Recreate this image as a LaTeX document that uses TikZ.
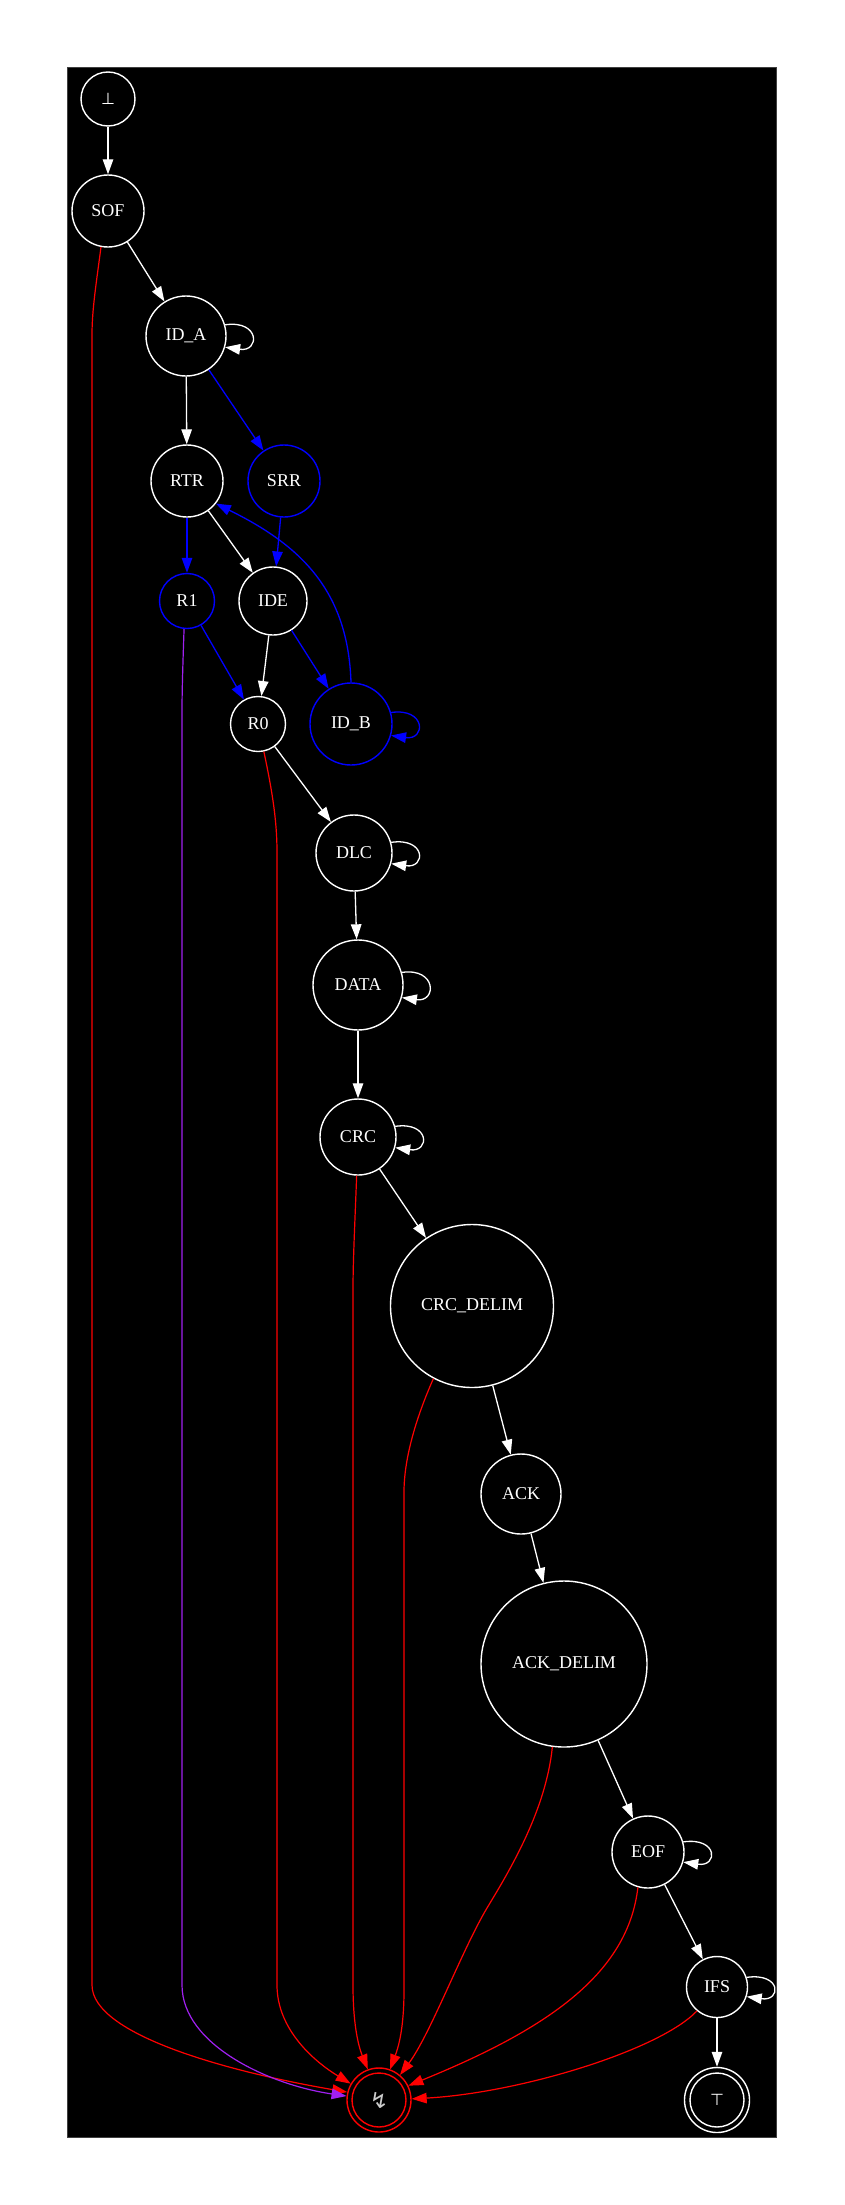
\documentclass[tikz,border=0pt]{standalone}
\usepackage{fontspec}
\setmainfont{Liberation Serif}
\newfontfamily\dejavu{DejaVu Sans}
\usetikzlibrary{arrows.meta}
\definecolor{xpurple}{HTML}{A020F0}
\begin{document}
\begin{tikzpicture}[x=1pt,y=-1pt,
  st/.style={circle, draw=white, line width=1.4pt, inner sep=0pt, text=white,
    font=\fontsize{18}{20}\selectfont},
  bst/.style={st, draw=blue},
  fin/.style={st, draw=#1, path picture={\draw[#1, line width=1.4pt] (path picture bounding box.center) circle (27pt);}},
  e/.style={draw=white, line width=1.3pt, -{Triangle[length=15pt,width=10.5pt]}},
  eb/.style={e, draw=blue},
  er/.style={e, draw=red, line width=1.2pt},
  ep/.style={e, draw=xpurple, line width=1.2pt},
]
\useasboundingbox (0,0) rectangle (844,2205);
\fill[white] (0,0) rectangle (844,2205);
\filldraw[fill=black, draw=black!75, line width=0.8pt] (67,67) rectangle (776,2137);

% nodes
\node[st, minimum size=54pt, font=\dejavu\fontsize{16}{18}\selectfont] (bot) at (108,99) {⊥};
\node[st, minimum size=72pt] (sof) at (108,211) {SOF};
\node[st, minimum size=80pt] (ida) at (186,336) {ID\_A};
\node[st, minimum size=72pt] (rtr) at (187,481) {RTR};
\node[bst, minimum size=72pt] (srr) at (284,481) {SRR};
\node[bst, minimum size=55pt] (r1) at (187,601) {R1};
\node[st, minimum size=68pt] (ide) at (273,601) {IDE};
\node[st, minimum size=55pt] (r0) at (258,724) {R0};
\node[bst, minimum size=82pt] (idb) at (351,724) {ID\_B};
\node[st, minimum size=76pt] (dlc) at (354,853) {DLC};
\node[st, minimum size=90pt] (data) at (358,985) {DATA};
\node[st, minimum size=76pt] (crc) at (358,1137) {CRC};
\node[st, minimum size=163pt] (crcd) at (472,1306) {CRC\_DELIM};
\node[st, minimum size=80pt] (ack) at (521,1494) {ACK};
\node[st, minimum size=166pt] (ackd) at (564,1664) {ACK\_DELIM};
\node[st, minimum size=72pt] (eof) at (648,1852) {EOF};
\node[st, minimum size=61pt] (ifs) at (717,1987) {IFS};
\node[fin=white, minimum size=65pt, font=\dejavu\fontsize{16}{18}\selectfont] (top) at (717,2100) {⊤};
\node[fin=red, minimum size=64pt, text=white!80!black, font=\dejavu\fontsize{22}{24}\selectfont] (zap) at (379,2100) {↯};

% white edges
\draw[e] (bot) -- (sof);
\draw[e] (sof) -- (ida);
\draw[e] (ida) -- (rtr);
\draw[e] (rtr) -- (ide);
\draw[e] (ide) -- (r0);
\draw[e] (r0) -- (dlc);
\draw[e] (dlc) -- (data);
\draw[e] (data) -- (crc);
\draw[e] (crc) -- (crcd);
\draw[e] (crcd) -- (ack);
\draw[e] (ack) -- (ackd);
\draw[e] (ackd) -- (eof);
\draw[e] (eof) -- (ifs);
\draw[e] (ifs) -- (top);

% self loops
\draw[e] (ida.16) .. controls +(35,-5) and +(35,5) .. (ida.-16);
\draw[e] (dlc.16) .. controls +(35,-5) and +(35,5) .. (dlc.-16);
\draw[e] (data.16) .. controls +(35,-5) and +(35,5) .. (data.-16);
\draw[e] (crc.16) .. controls +(35,-5) and +(35,5) .. (crc.-16);
\draw[e] (eof.16) .. controls +(35,-5) and +(35,5) .. (eof.-16);
\draw[e] (ifs.18) .. controls +(35,-5) and +(35,5) .. (ifs.-18);
\draw[eb] (idb.16) .. controls +(35,-5) and +(35,5) .. (idb.-16);

% blue edges
\draw[eb] (ida) -- (srr);
\draw[eb] (srr) -- (ide);
\draw[eb] (rtr) -- (r1);
\draw[eb] (r1) -- (r0);
\draw[eb] (ide) -- (idb);
\draw[eb] (idb.north) .. controls (348,590) and (300,545) .. (rtr.-38);

% edges into the error state
\draw[er] (sof.-101) .. controls (96,285) and (92,310) .. (92,335) -- (92,1985)
  .. controls (92,2035) and (230,2072) .. (zap.166);
\draw[ep] (r1.-96) .. controls (183,660) and (182,690) .. (182,712) -- (182,1985)
  .. controls (182,2045) and (270,2085) .. (zap.173);
\draw[er] (r0.-78) .. controls (272,790) and (277,820) .. (277,852) -- (277,1985)
  .. controls (277,2030) and (315,2062) .. (zap.150);
\draw[er] (crc.-92) .. controls (355,1220) and (353,1260) .. (353,1290) -- (353,1985)
  .. controls (353,2030) and (360,2050) .. (zap.110);
\draw[er] (crcd.-118) .. controls (415,1420) and (404,1460) .. (404,1492) -- (404,1990)
  .. controls (404,2030) and (398,2048) .. (zap.70);
\draw[er] (ackd.-98) .. controls (546,1810) and (510,1870) .. (487,1908)
  .. controls (462,1950) and (430,2035) .. (zap.50);
\draw[er] (eof.-106) .. controls (628,1975) and (545,2030) .. (zap.26);
\draw[er] (ifs.-130) .. controls (660,2050) and (520,2093) .. (zap.2);
\end{tikzpicture}
\end{document}
